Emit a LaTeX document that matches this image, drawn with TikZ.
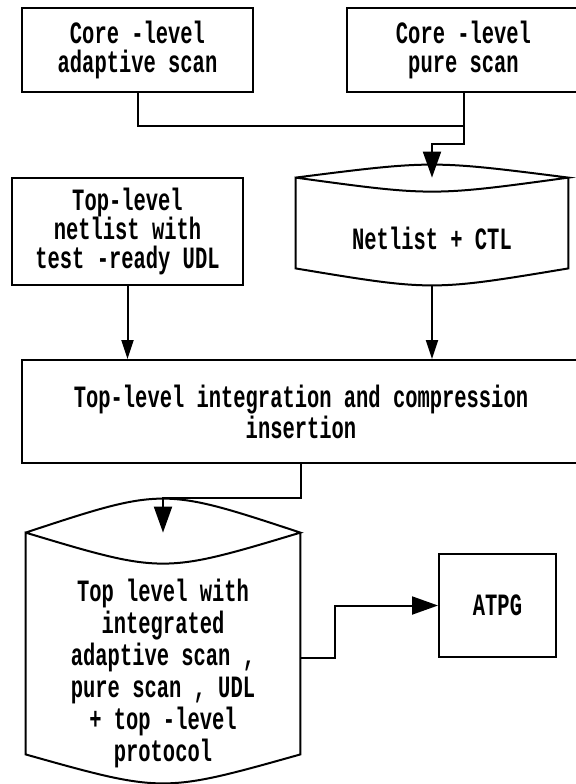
\documentclass[tikz,border=0pt]{standalone}
\usepackage{fontspec}
\newfontfamily\flowfont[FakeStretch=0.66]{Liberation Mono}
\usetikzlibrary{arrows.meta}

\tikzset{
  block/.style={draw, line width=1pt, align=center, inner sep=2pt},
  store/.style={align=center, inner sep=0pt},
  line/.style={line width=1pt},
  arrow/.style={line width=1pt, -{Triangle[length=9.5pt,width=6pt]}},
  bigarrow/.style={line width=1pt, -{Triangle[length=13pt,width=9pt]}},
}

% drum shaped data store drawn round node #1
% #2 rise of the top cap, #3 sag of its lower rim, #4 sag of the bottom
\newcommand{\storeoutline}[4]{%
  \draw[line] ([yshift=#3]#1.north west)
    .. controls ([yshift=#3+4/3*#2]#1.north) .. ([yshift=#3]#1.north east)
    .. controls ([yshift=#3-4/3*#3]#1.north) .. ([yshift=#3]#1.north west)
    -- ([yshift=#4]#1.south west)
    .. controls ([yshift=#4-4/3*#4]#1.south) .. ([yshift=#4]#1.south east)
    -- ([yshift=#3]#1.north east);}

\begin{document}
\begin{tikzpicture}[x=0.5pt,y=-0.5pt,
    font={\flowfont\bfseries\fontsize{15.5}{14.5}\selectfont}]
  \useasboundingbox (0,0) rectangle (576,784);

  % core level inputs
  \node[block, minimum width=115.5pt, minimum height=42pt] (coreadapt) at (137.5,50) {Core -level\\adaptive scan};
  \node[block, minimum width=116.5pt, minimum height=42pt] (corepure) at (463.5,50) {Core -level\\pure scan};

  \node[block, minimum width=115.5pt, minimum height=53.5pt] (toplevnet) at (127.5,231.5) {Top-level\\netlist with\\test -ready UDL};
  \node[store, minimum width=136pt, minimum height=46.5pt] (netctl) at (432,238.5) {Netlist + CTL};
  \storeoutline{netctl}{6.5pt}{7pt}{8.5pt}

  \node[block, minimum width=279pt, minimum height=51.5pt] (integ) at (301,411.5)
    {Top-level integration and compression\\insertion};

  % integrated result and pattern generation
  \node[store, minimum width=137pt, minimum height=109.5pt,
    font={\flowfont\bfseries\fontsize{15.5}{16}\selectfont}] (toplvl) at (163,673.5)
    {Top level with\\integrated\\adaptive scan ,\\pure scan , UDL\\+ top -level\\protocol};
  \storeoutline{toplvl}{17pt}{15.5pt}{14.5pt}
  \node[block, minimum width=58.5pt, minimum height=51.5pt] (atpg) at (497.5,605.5) {ATPG};

  \coordinate (merge) at (463.5,126);
  \draw[line] (coreadapt.south) |- (merge);
  \draw[bigarrow] (corepure.south) -- ++(0,51) -| ([yshift=7pt]netctl.north);
  \draw[arrow] (toplevnet.south) -- (toplevnet.south |- integ.north);
  \draw[arrow] (netctl.south) -- (netctl.south |- integ.north);
  \draw[bigarrow] (integ.south) -- ++(0,34) -| ([yshift=15.5pt]toplvl.north);
  \draw[bigarrow] ([yshift=7.75pt]toplvl.east) -- ++(35,0) |- (atpg.west);
\end{tikzpicture}
\end{document}
